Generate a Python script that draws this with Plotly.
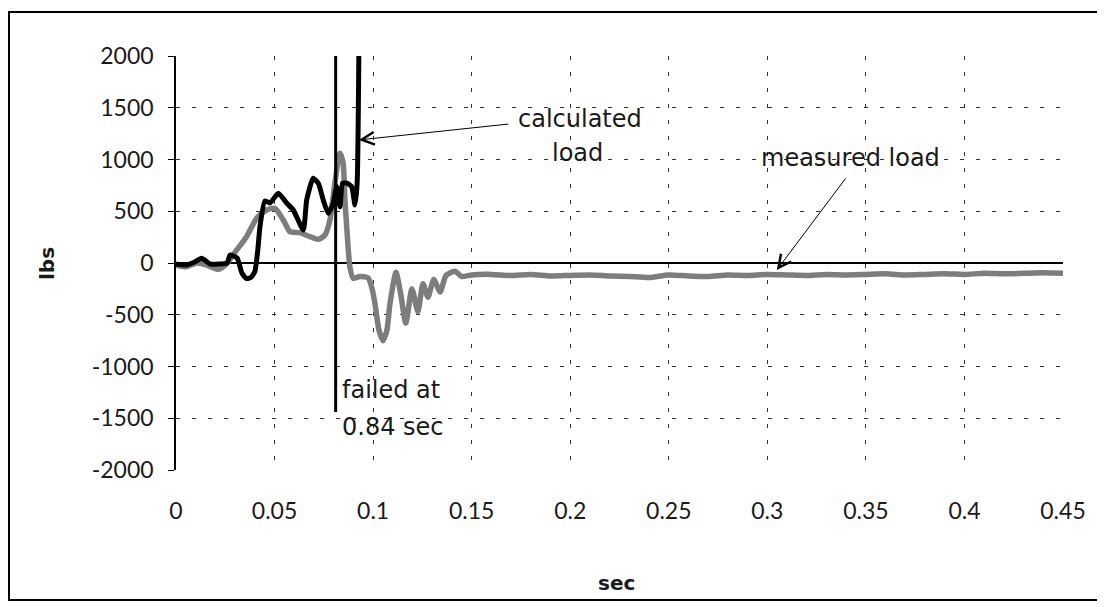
import plotly.graph_objects as go

# ---------------- data ----------------
measured_x = [0, 0.0054, 0.0105, 0.0156, 0.0215, 0.0257, 0.0308, 0.0358, 0.0409, 0.046,
              0.0502, 0.0544, 0.0578, 0.0629, 0.068, 0.0722, 0.0756, 0.0781, 0.0806, 0.0832,
              0.0848, 0.0857, 0.0866, 0.0882, 0.0899, 0.0933, 0.0975, 0.0995, 0.101, 0.103,
              0.105, 0.107, 0.1085, 0.1116, 0.114, 0.1166, 0.1197, 0.1227, 0.1253, 0.1278,
              0.1308, 0.134, 0.137, 0.1415, 0.145, 0.15, 0.16, 0.17, 0.18, 0.19,
              0.2, 0.21, 0.22, 0.23, 0.24, 0.25, 0.26, 0.27, 0.28, 0.29,
              0.3, 0.31, 0.32, 0.33, 0.34, 0.35, 0.36, 0.37, 0.38, 0.39,
              0.4, 0.41, 0.42, 0.43, 0.44, 0.45]
measured_y = [-20, -35, 0, -20, -61, -8, 126, 254, 432, 512,
              528, 416, 303, 293, 254, 229, 271, 416, 771, 1061,
              964, 609, 351, -35, -148, -130, -145, -250, -400, -650,
              -750, -650, -400, -90, -300, -580, -250, -470, -200, -330,
              -160, -280, -120, -80, -130, -115, -110, -120, -110, -125,
              -120, -115, -125, -130, -140, -115, -125, -130, -115, -120,
              -110, -115, -120, -110, -115, -110, -105, -115, -110, -105,
              -110, -100, -105, -100, -95, -100]

calc_x = [0, 0.005, 0.0095, 0.013, 0.0175, 0.022, 0.026, 0.0274, 0.031, 0.0335,
          0.0358, 0.038, 0.040, 0.0415, 0.0426, 0.0451, 0.0477, 0.0519, 0.0561, 0.0595,
          0.0646, 0.0663, 0.0696, 0.0722, 0.0747, 0.0772, 0.0798, 0.0815, 0.0832, 0.0845,
          0.0866, 0.0891, 0.0908, 0.0919, 0.0928]
calc_y = [-10, -20, 10, 45, -10, -10, 0, 77, 48, -100,
          -150, -140, -84, 126, 351, 600, 580, 674, 580, 512,
          319, 609, 819, 771, 609, 480, 580, 738, 544, 771,
          771, 738, 561, 771, 2100]

fail_x = [0.081, 0.081]
fail_y = [2000, -1440]

y_ticks = [-2000, -1500, -1000, -500, 0, 500, 1000, 1500, 2000]
y_labels = ["-2000", "-1500", "-1000", "-500", "0", "500", "1000", "1500", "2000"]
x_ticks = [0, 0.05, 0.1, 0.15, 0.2, 0.25, 0.3, 0.35, 0.4, 0.45]
x_labels = ["0", "0.05", "0.1", "0.15", "0.2", "0.25", "0.3", "0.35", "0.4", "0.45"]

TICKFONT = "Lato"
TEXTFONT = "DejaVu Sans"
TXT = "#1a1a1a"

fig = go.Figure()
fig.add_trace(go.Scatter(x=measured_x, y=measured_y, mode="lines",
                         line=dict(color="#7d7d7d", width=5.5, shape="spline", smoothing=0.6),
                         name="measured load"))
fig.add_trace(go.Scatter(x=calc_x, y=calc_y, mode="lines",
                         line=dict(color="#000000", width=5, shape="spline", smoothing=0.5),
                         name="calculated load"))
fig.add_trace(go.Scatter(x=fail_x, y=fail_y, mode="lines",
                         line=dict(color="#000000", width=3), name="failure"))

fig.update_layout(
    width=1105, height=607,
    margin=dict(l=168, r=50, t=48, b=145),
    paper_bgcolor="white", plot_bgcolor="white",
    showlegend=False,
    font=dict(family=TICKFONT, size=22, color=TXT),
    xaxis=dict(range=[0, 0.45], tickvals=x_ticks, ticktext=x_labels,
               showgrid=True, gridcolor="#333", griddash="4px,12px", gridwidth=1,
               zeroline=False, showline=False, ticks="",
               ticklabelstandoff=25,
               tickfont=dict(family=TICKFONT, size=23, color=TXT)),
    yaxis=dict(range=[-2000, 2000], tickvals=y_ticks, ticktext=y_labels,
               showgrid=True, gridcolor="#333", griddash="4px,12px", gridwidth=1,
               zeroline=True, zerolinecolor="#000", zerolinewidth=1.5,
               showline=True, linecolor="#000", linewidth=1.5,
               ticks="outside", ticklen=6, tickcolor="#000",
               ticklabelstandoff=10,
               tickfont=dict(family=TICKFONT, size=23, color=TXT)),
)

TF = dict(family=TEXTFONT, size=24, color=TXT)
annots = [
    dict(x=-0.1454, y=0.4976, xref="paper", yref="paper", text="<b>lbs</b>", textangle=-90,
         xanchor="center", yanchor="middle", showarrow=False,
         font=dict(family=TEXTFONT, size=20, color=TXT)),
    dict(x=0.497, y=-0.273, xref="paper", yref="paper", text="<b>sec</b>",
         xanchor="center", yanchor="middle", showarrow=False,
         font=dict(family=TEXTFONT, size=20, color=TXT)),
    dict(x=0.2049, y=1392, xref="x", yref="y", text="calculated", showarrow=False,
         xanchor="center", yanchor="middle", font=TF),
    dict(x=0.2039, y=1064, xref="x", yref="y", text="load", showarrow=False,
         xanchor="center", yanchor="middle", font=TF),
    dict(x=0.3423, y=1015, xref="x", yref="y", text="measured load", showarrow=False,
         xanchor="center", yanchor="middle", font=TF),
    dict(x=0.0832, y=-1228, xref="x", yref="y", text="failed at", showarrow=False,
         xanchor="left", yanchor="middle", font=TF),
    dict(x=0.0832, y=-1586, xref="x", yref="y", text="0.84 sec", showarrow=False,
         xanchor="left", yanchor="middle", font=TF),
    dict(x=0.0928, y=1189, xref="x", yref="y", ax=0.1694, ay=1344, axref="x", ayref="y",
         text="", showarrow=True, arrowhead=5, arrowsize=2.5, arrowwidth=1, arrowcolor="#000"),
    dict(x=0.3048, y=-68, xref="x", yref="y", ax=0.3403, ay=832, axref="x", ayref="y",
         text="", showarrow=True, arrowhead=5, arrowsize=2.5, arrowwidth=1, arrowcolor="#000"),
]
fig.update_layout(annotations=annots)

# outer frame of the chart
fig.add_shape(type="rect", xref="paper", yref="paper",
              x0=-0.1883, x1=1.0417, y0=-0.314, y1=1.106,
              line=dict(color="#000", width=2), fillcolor="rgba(0,0,0,0)", layer="below")

fig.write_html("out.html")
